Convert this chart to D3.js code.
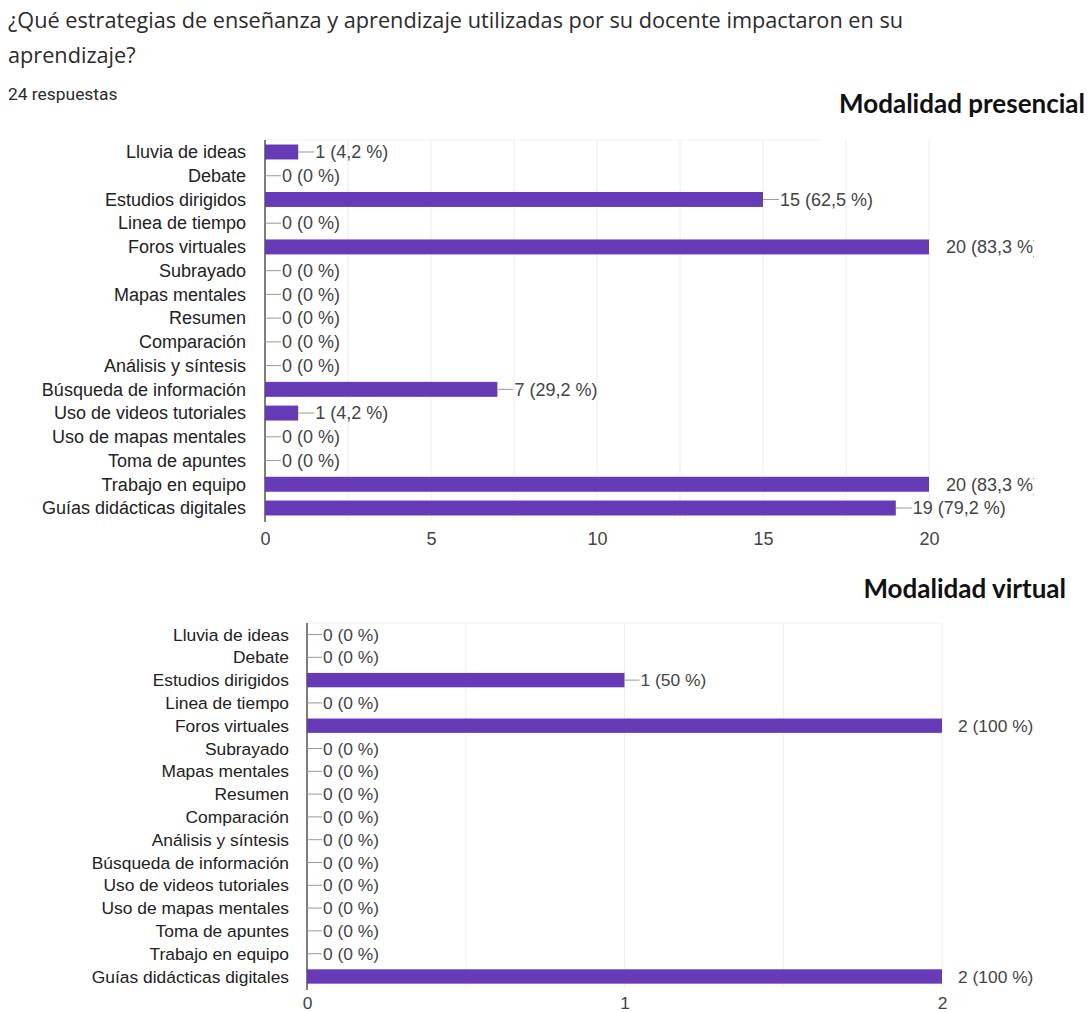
<!DOCTYPE html>
<html>
<head>
<meta charset="utf-8">
<script src="https://cdn.jsdelivr.net/npm/d3@7"></script>
<style>
  body { margin: 0; background: #fff; }
  svg { display: block; }
</style>
</head>
<body>
<svg id="chart" width="1089" height="1012"></svg>
<script>
// categories shared by both panels (top to bottom)
var categories = [
  "Lluvia de ideas", "Debate", "Estudios dirigidos", "Linea de tiempo",
  "Foros virtuales", "Subrayado", "Mapas mentales", "Resumen",
  "Comparación", "Análisis y síntesis", "Búsqueda de información",
  "Uso de videos tutoriales", "Uso de mapas mentales", "Toma de apuntes",
  "Trabajo en equipo", "Guías didácticas digitales"
];
var presencialCounts = [1, 0, 15, 0, 20, 0, 0, 0, 0, 0, 7, 1, 0, 0, 20, 19];
var virtualCounts    = [0, 0, 1, 0, 2, 0, 0, 0, 0, 0, 0, 0, 0, 0, 0, 2];
var presencialTotal = 24, virtualTotal = 2;
var presencialTicks = [0, 5, 10, 15, 20];
var virtualTicks = [0, 1, 2];

var svg = d3.select("#chart");
var purple = "#673ab7";

// header
svg.append("text").attr("x", 8).attr("y", 28)
  .style("font-family", "Open Sans").style("font-size", "21.7px").style("fill", "#2b2b2b")
  .text("¿Qué estrategias de enseñanza y aprendizaje utilizadas por su docente impactaron en su");
svg.append("text").attr("x", 8).attr("y", 63)
  .style("font-family", "Open Sans").style("font-size", "21.7px").style("fill", "#2b2b2b")
  .text("aprendizaje?");
svg.append("text").attr("x", 8).attr("y", 100)
  .style("font-family", "Roboto").style("font-size", "17.4px").style("fill", "#2b2b2b")
  .text("24 respuestas");

function pctLabel(v, total) {
  var p = Math.round(v / total * 1000) / 10;
  return v + " (" + String(p).replace(".", ",") + " %)";
}

function drawPanel(cfg) {
  var g = svg.append("g");
  var x = d3.scaleLinear().domain([0, cfg.max]).range([cfg.left, cfg.right]);
  var y = d3.scaleBand().domain(categories).range([cfg.top, cfg.bottom]).paddingInner(0.37).paddingOuter(0.19);

  // faint gridlines
  g.selectAll("line.grid").data(d3.range(0, cfg.max + 1e-9, cfg.gridStep))
    .enter().append("line").attr("class", "grid")
    .attr("x1", x).attr("x2", x).attr("y1", cfg.top).attr("y2", cfg.bottom)
    .style("stroke", "#ececec");
  g.append("line")
    .attr("x1", cfg.left).attr("x2", cfg.topLineEnd).attr("y1", cfg.top).attr("y2", cfg.top)
    .style("stroke", "#f0f0f0");

  // bars
  var data = categories.map(function(c, i) { return {cat: c, v: cfg.values[i]}; });
  g.selectAll("rect.bar").data(data.filter(function(d) { return d.v > 0; }))
    .enter().append("rect").attr("class", "bar")
    .attr("x", x(0)).attr("y", function(d) { return y(d.cat); })
    .attr("width", function(d) { return x(d.v) - x(0); })
    .attr("height", y.bandwidth())
    .style("fill", purple);

  // baseline
  g.append("line").attr("x1", x(0)).attr("x2", x(0))
    .attr("y1", cfg.top).attr("y2", cfg.bottom + 2)
    .style("stroke", "#555").style("stroke-width", 1.5);

  // category labels
  g.selectAll("text.cat").data(categories)
    .enter().append("text").attr("class", "cat")
    .attr("x", x(0) - cfg.labelGap)
    .attr("y", function(d) { return y(d) + y.bandwidth() / 2; })
    .attr("dy", ".35em")
    .style("text-anchor", "end")
    .style("font-family", "Liberation Sans, Arial").style("font-size", cfg.fontSize + "px")
    .style("fill", "#222")
    .text(function(d) { return d; });

  // value annotations with leader lines, clipped at the right like the source
  var clipId = "clip" + cfg.top;
  svg.append("clipPath").attr("id", clipId).append("rect")
    .attr("x", 0).attr("y", cfg.top - 20).attr("width", cfg.clipRight).attr("height", cfg.bottom - cfg.top + 40);
  var ann = g.append("g").attr("clip-path", "url(#" + clipId + ")");
  ann.selectAll("line.lead").data(data)
    .enter().append("line").attr("class", "lead")
    .attr("x1", function(d) { return x(d.v); })
    .attr("x2", function(d) { return Math.min(x(d.v) + cfg.lead, cfg.right); })
    .attr("y1", function(d) { return y(d.cat) + y.bandwidth() / 2; })
    .attr("y2", function(d) { return y(d.cat) + y.bandwidth() / 2; })
    .style("stroke", "#999");
  ann.selectAll("text.val").data(data)
    .enter().append("text").attr("class", "val")
    .attr("x", function(d) { return x(d.v) + cfg.lead + 1; })
    .attr("y", function(d) { return y(d.cat) + y.bandwidth() / 2; })
    .attr("dy", ".35em")
    .style("font-family", "Liberation Sans, Arial").style("font-size", cfg.fontSize + "px")
    .style("fill", "#444")
    .text(function(d) { return pctLabel(d.v, cfg.total); });

  // x axis tick labels
  var axis = d3.axisBottom(x).tickValues(cfg.ticks).tickFormat(d3.format("d"))
    .tickSize(0).tickPadding(cfg.tickPad);
  var ag = g.append("g").attr("transform", "translate(0," + cfg.bottom + ")").call(axis);
  ag.select(".domain").remove();
  ag.selectAll("text")
    .style("font-family", "Liberation Sans, Arial").style("font-size", cfg.fontSize + "px")
    .style("fill", "#444");

  // panel title
  svg.append("text").attr("x", cfg.titleX).attr("y", cfg.titleY)
    .style("text-anchor", "end")
    .style("font-family", "Lato").style("font-weight", 700).style("font-size", "26px")
    .style("fill", "#111")
    .text(cfg.title);
}

drawPanel({
  values: presencialCounts, total: presencialTotal, max: 20, ticks: presencialTicks,
  gridStep: 2.5, left: 265, right: 929, top: 140, bottom: 520,
  labelGap: 19, fontSize: 18, lead: 16, tickPad: 12, clipRight: 1034, topLineEnd: 820,
  title: "Modalidad presencial", titleX: 1085, titleY: 113
});
drawPanel({
  values: virtualCounts, total: virtualTotal, max: 2, ticks: virtualTicks,
  gridStep: 0.5, left: 307, right: 942, top: 623, bottom: 988,
  labelGap: 18, fontSize: 17.4, lead: 15, tickPad: 9, clipRight: 1089, topLineEnd: 942,
  title: "Modalidad virtual", titleX: 1066, titleY: 598
});
</script>
</body>
</html>
